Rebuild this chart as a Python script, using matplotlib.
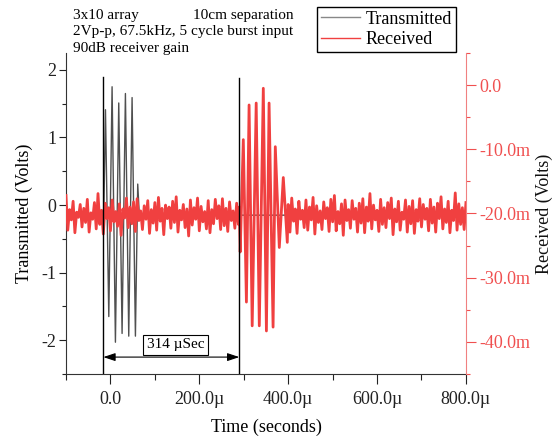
import numpy as np
import matplotlib
matplotlib.use('Agg')
import matplotlib.pyplot as plt
from matplotlib.lines import Line2D
from matplotlib.ticker import MultipleLocator, FuncFormatter

plt.rcParams['font.family'] = 'Liberation Serif'
plt.rcParams['axes.unicode_minus'] = False

# --- transmitted burst (time in microseconds, volts)
trans_t_us = [-100, -15, -11.2, -3.7, 3.7, 11.2, 18.7, 26.2, 33.7, 41.2, 48.7, 56.2, 61.4, 65, 800]
trans_v = [-0.15, -0.15, 1.41, -1.65, 1.75, -2.03, 1.51, -1.90, 1.65, -1.94, 1.59, -1.94, 0.31, -0.15, -0.15]

# --- received signal (millivolts), noise sampled every 4 us before and after the echo
rx_pre_mv = [
    -17.2, -22.6, -19.4, -21.0, -18.1, -23.0, -19.8, -20.6, -18.6, -22.1,
    -19.2, -21.4, -17.8, -22.9, -19.9, -20.9, -18.3, -22.4, -16.9, -21.7,
    -19.5, -23.2, -18.4, -20.8, -19.1, -22.7, -17.9, -21.3, -19.7, -22.0,
    -18.5, -23.4, -19.3, -20.7, -17.6, -22.2, -19.0, -21.6, -18.2, -22.8,
    -17.7, -21.1, -19.6, -22.5, -18.8, -20.9, -18.0, -23.1, -19.4, -21.5,
    -18.3, -22.6, -17.5, -21.2, -19.2, -23.3, -18.7, -20.8, -19.0, -22.3,
    -18.1, -21.4, -17.4, -22.9, -19.5, -21.0, -18.6, -22.2, -19.3, -23.5,
    -17.9, -21.8, -19.1, -20.9, -17.6, -22.7, -18.9, -21.3, -19.7, -22.4,
    -18.0, -23.0, -19.4, -21.6, -17.8, -20.8, -18.8, -22.5, -17.7, -21.9,
    -19.2, -22.8, -18.2, -21.1, -19.6, -22.3, -18.4, -21.7,
]
rx_burst_t_us = [290, 292, 299, 306, 312, 319, 328, 335, 344, 351, 357, 366, 371, 380, 389, 398]
rx_burst_mv = [-19.0, -26.0, -8.5, -33.8, -3.1, -37.5, -2.8, -37.5, -0.5, -38.3, -2.8, -37.7, -9.6, -25.3, -14.4, -24.5]
rx_post_mv = [
    -18.6, -22.9, -17.6, -21.2, -19.3, -23.1, -18.1, -20.9, -19.5, -22.2,
    -17.9, -22.6, -19.0, -21.0, -17.5, -23.2, -18.8, -21.4, -19.6, -22.5,
    -18.2, -20.8, -19.1, -22.8, -17.8, -21.3, -17.2, -22.7, -19.7, -21.6,
    -18.5, -23.4, -17.9, -21.1, -19.4, -22.3, -18.0, -20.9, -19.2, -22.9,
    -18.4, -21.5, -17.7, -23.0, -19.0, -21.2, -16.9, -22.4, -18.7, -21.0,
    -19.5, -22.8, -17.8, -21.7, -19.1, -22.2, -18.3, -20.8, -17.6, -23.3,
    -19.3, -21.3, -18.1, -22.6, -19.8, -20.9, -17.9, -22.9, -18.9, -21.6,
    -18.0, -23.1, -19.4, -21.2, -17.7, -22.1, -18.6, -20.9, -19.2, -22.7,
    -17.8, -21.5, -19.0, -22.9, -18.4, -20.8, -17.4, -22.4, -19.3, -21.4,
    -18.1, -23.0, -19.5, -21.1, -16.8, -22.6, -18.5, -21.7, -19.1, -22.5,
    -18.3,
]

# --- marker lines for the time of flight
marker_t_us = [-16, 290]
marker_top_v = [1.90, 1.88]
delay_label = '314 µSec'

notes = ['3x10 array', '10cm separation', '2Vp-p, 67.5kHz, 5 cycle burst input', '90dB receiver gain']

rx_t_us = np.concatenate([np.arange(-100, 289, 4), rx_burst_t_us, np.arange(400, 801, 4)])
rx_mv = np.concatenate([rx_pre_mv, rx_burst_mv, rx_post_mv])

fig = plt.figure(figsize=(5.57, 4.37), dpi=100)
ax = fig.add_axes((0.1185, 0.1442, 0.718, 0.7346))
ax2 = ax.twinx()

red = '#f04040'
l1, = ax.plot(np.array(trans_t_us) * 1e-6, trans_v, color='#505050', lw=1.0, label='Transmitted')
l2, = ax2.plot(rx_t_us * 1e-6, rx_mv * 1e-3, color=red, lw=2.0, label='Received')

ax.set_xlim(-100e-6, 800e-6)
ax.set_ylim(-2.5, 2.25)
ax2.set_ylim(-45e-3, 5e-3)

# --- spines
ax.spines['top'].set_visible(False)
ax.spines['right'].set_visible(False)
for s in ['top', 'left', 'bottom']:
    ax2.spines[s].set_visible(False)
ax2.spines['right'].set_color('#f08080')
for s in ['left', 'bottom']:
    ax.spines[s].set_color('#333333')

# --- ticks
ax.xaxis.set_major_locator(MultipleLocator(200e-6))
ax.xaxis.set_minor_locator(MultipleLocator(100e-6))
ax.yaxis.set_major_locator(MultipleLocator(1))
ax.yaxis.set_minor_locator(MultipleLocator(0.5))
ax2.yaxis.set_major_locator(MultipleLocator(10e-3))
ax2.yaxis.set_minor_locator(MultipleLocator(5e-3))

ax.xaxis.set_major_formatter(FuncFormatter(lambda v, p: '0.0' if abs(v) < 1e-12 else f'{v * 1e6:.1f}µ'))
ax.yaxis.set_major_formatter(FuncFormatter(lambda v, p: f'{v:g}'))
ax2.yaxis.set_major_formatter(FuncFormatter(lambda v, p: '0.0' if abs(v) < 1e-12 else f'{v * 1e3:.1f}m'))

ax.tick_params(axis='x', which='major', direction='out', length=7, width=0.8, pad=5, labelsize=13, colors='#222222')
ax.tick_params(axis='x', which='minor', direction='out', length=4, width=0.8, colors='#222222')
ax.tick_params(axis='y', which='major', direction='out', length=5, width=0.8, pad=2, labelsize=13, colors='#222222')
ax.tick_params(axis='y', which='minor', direction='out', length=3, width=0.8, colors='#222222')
ax2.tick_params(axis='y', which='major', direction='out', length=7, width=0.8, pad=3, labelsize=13, colors='#f05050')
ax2.tick_params(axis='y', which='minor', direction='out', length=3, width=0.8, colors='#f05050')

ax.set_xlabel('Time (seconds)', fontsize=13)
ax.set_ylabel('Transmitted (Volts)', fontsize=13)
ax2.set_ylabel('Received (Volts)', fontsize=13, color='#111111')
ax.xaxis.set_label_coords(0.5, -0.138)
ax.yaxis.set_label_coords(-0.0825, 0.5)
ax2.yaxis.set_label_coords(1.175, 0.5)

# --- time of flight markers, drawn above the received trace
for t, top in zip(marker_t_us, marker_top_v):
    ax2.add_artist(Line2D([t * 1e-6, t * 1e-6], [top, -2.5], transform=ax.transData, color='black', lw=1.0))
ax2.annotate('', xy=(marker_t_us[1] * 1e-6, -2.25), xytext=(marker_t_us[0] * 1e-6, -2.25),
             xycoords=ax.transData, textcoords=ax.transData,
             arrowprops=dict(arrowstyle='<|-|>,head_length=0.6,head_width=0.2', color='black',
                             lw=0.8, shrinkA=0, shrinkB=0, mutation_scale=12))
ax2.text(146e-6, -2.07, delay_label, transform=ax.transData, ha='center', va='center', fontsize=11,
         bbox=dict(boxstyle='square,pad=0.25', fc='white', ec='black', lw=0.8))

# --- notes in the top left corner
fig.text(73 / 557, 1 - 19 / 437, notes[0], fontsize=11, va='baseline')
fig.text(193 / 557, 1 - 19 / 437, notes[1], fontsize=11, va='baseline')
fig.text(73 / 557, 1 - 35 / 437, notes[2], fontsize=11, va='baseline')
fig.text(73 / 557, 1 - 52 / 437, notes[3], fontsize=11, va='baseline')

leg = fig.legend(handles=[l1, l2], loc='upper left', bbox_to_anchor=(317 / 557, 1 - 7 / 437),
                 fontsize=13, frameon=True, fancybox=False, edgecolor='black', framealpha=1,
                 borderaxespad=0, borderpad=0.2, handlelength=2.2, handletextpad=0.3, labelspacing=0.2)
leg.get_frame().set_linewidth(1.0)
for h in leg.get_lines():
    h.set_linewidth(1.0)
leg.get_lines()[0].set_color('#888888')

fig.savefig('out.png', dpi=100)
